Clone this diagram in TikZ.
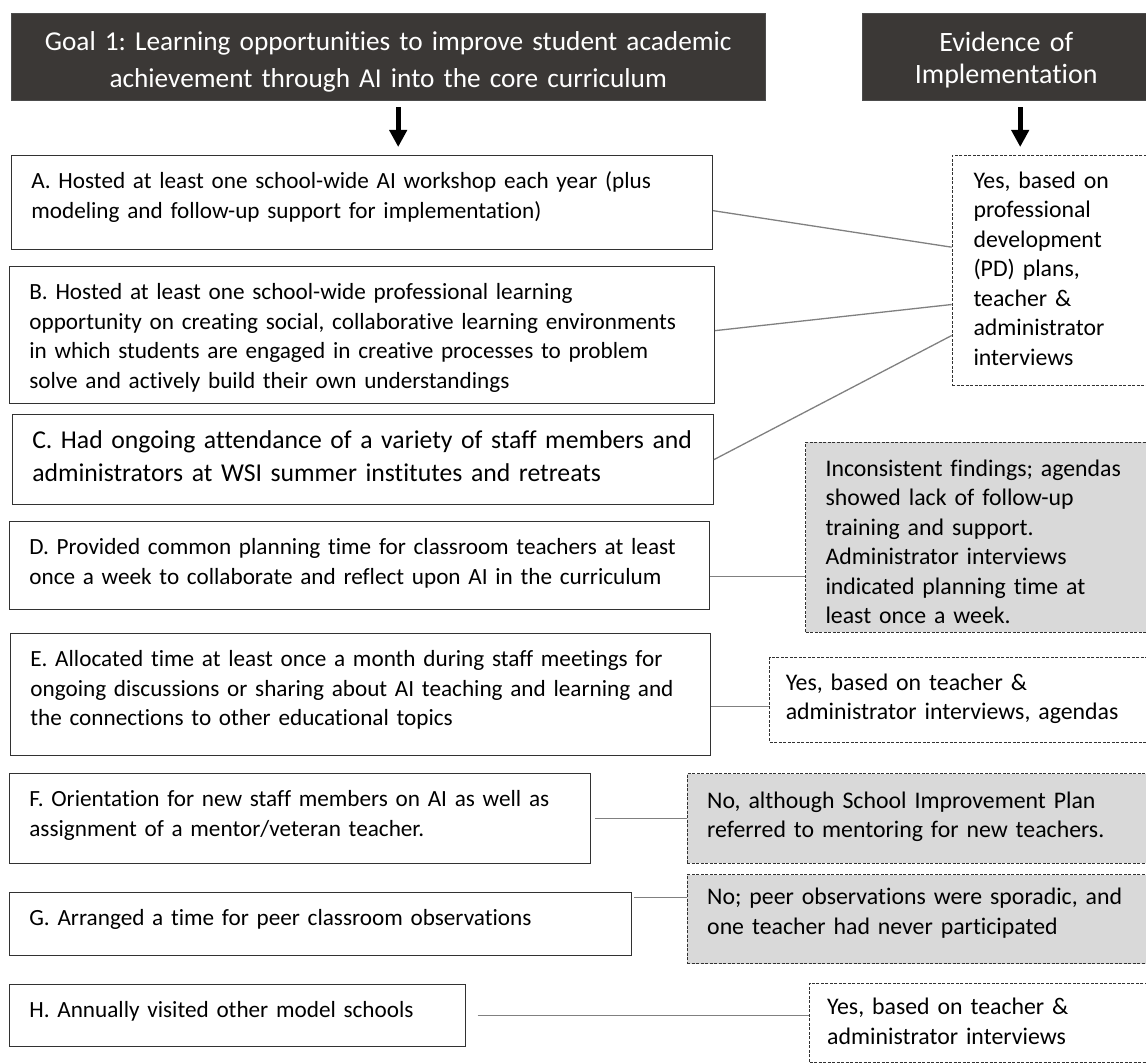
\documentclass[tikz,border=0pt]{standalone}
\usepackage{fontspec}
\setmainfont{Carlito}[Ligatures=NoCommon]
\frenchspacing
\definecolor{headgray}{RGB}{59, 56, 54}
\definecolor{evgray}{RGB}{217, 217, 217}
\definecolor{linegray}{RGB}{128, 128, 128}
\definecolor{boxline}{RGB}{50, 50, 50}
\usetikzlibrary{arrows.meta, positioning, calc}
\tikzset{
	header/.style={rectangle, draw=black!70, fill=headgray, text=white, align=center, inner xsep=10pt, inner ysep=0pt, anchor=north west, font=\fontsize{27.3}{37.3}\selectfont},
	item/.style={rectangle, draw=boxline, line width=1.3pt, fill=white, align=left, inner xsep=20pt, inner ysep=0pt, text height=33pt, anchor=north west, font=\fontsize{23.2}{29.5}\selectfont},
	evid/.style={rectangle, draw=boxline, dash pattern=on 3pt off 1.5pt, line width=1pt, fill=white, align=left, inner xsep=20pt, inner ysep=0pt, text height=33pt, anchor=north west, font=\fontsize{23.8}{29.5}\selectfont},
	evidno/.style={evid, fill=evgray},
	link/.style={draw=linegray, line width=1.3pt},
	downarrow/.style={-{Triangle[width=17pt, length=17pt]}, line width=5pt, draw=black},
}
\begin{document}
\begin{tikzpicture}[x=1pt, y=-1pt]
	\useasboundingbox (0,0) rectangle (1146,1064);
	% headers
	\node[header, text width=734pt, text height=37.3pt, text depth=50pt] (goal) at (11,12.7) {Goal 1: Learning opportunities to improve student academic\\achievement through AI into the core curriculum};
	\node[header, text width=268pt, text height=39pt, text depth=48.3pt, font=\fontsize{28}{31.7}\selectfont] (evhead) at (862,12.7) {Evidence of\\Implementation};
	% items
	\node[item, text width=661pt, text depth=61pt] (A) at (10.7,155) {A. Hosted at least one school-wide AI workshop each year (plus\\modeling and follow-up support for implementation)};
	\node[item, text width=665pt, text depth=104pt] (B) at (8.7,266) {B. Hosted at least one school-wide professional learning\\opportunity on creating social, collaborative learning environments\\in which students are engaged in creative processes to problem\\solve and actively build their own understandings};
	\node[item, text width=661pt, text height=34pt, text depth=56pt, font=\fontsize{25.7}{33}\selectfont] (C) at (11.6,414) {C. Had ongoing attendance of a variety of staff members and\\administrators at WSI summer institutes and retreats};
	\node[item, text width=660pt, text depth=55pt] (D) at (8.7,521) {D. Provided common planning time for classroom teachers at least\\once a week to collaborate and reflect upon AI in the curriculum};
	\node[item, text width=660pt, text depth=89pt] (E) at (9.7,633) {E. Allocated time at least once a month during staff meetings for\\ongoing discussions or sharing about AI teaching and learning and\\the connections to other educational topics};
	\node[item, text width=541pt, text depth=57pt] (F) at (8.7,773) {F. Orientation for new staff members on AI as well as\\assignment of a mentor/veteran teacher.};
	\node[item, text width=582pt, text depth=30pt] (G) at (8.7,892) {G. Arranged a time for peer classroom observations};
	\node[item, text width=416pt, text depth=29pt] (H) at (8.7,984) {H. Annually visited other model schools};
	% evidence
	\node[evid, inner xsep=21.3pt, text width=151.2pt, text depth=197pt] (ev1) at (951.7,155) {Yes, based on\\professional\\development\\(PD) plans,\\teacher \&\\administrator\\interviews};
	\node[evidno, text width=300.5pt, text height=34pt, text depth=156pt] (ev2) at (805,441.7) {Inconsistent findings; agendas\\showed lack of follow-up\\training and support.\\Administrator interviews\\indicated planning time at\\least once a week.};
	\node[evid, inner xsep=16pt, text width=344.2pt, text depth=52pt] (ev3) at (769.3,656.7) {Yes, based on teacher \&\\administrator interviews, agendas};
	\node[evidno, text width=418.8pt, text height=34.4pt, text depth=55pt] (ev4) at (686.7,773.3) {No, although School Improvement Plan\\referred to mentoring for new teachers.};
	\node[evidno, text width=418.8pt, text height=30pt, text depth=59pt] (ev5) at (686.7,874.3) {No; peer observations were sporadic, and\\one teacher had never participated};
	\node[evid, inner xsep=17.7pt, text width=301.1pt, text height=31.7pt, text depth=47.6pt] (ev6) at (809,982.7) {Yes, based on teacher \&\\administrator interviews};
	% arrows
	\draw[downarrow, shorten <=7pt, shorten >=8pt] ([xshift=10pt]goal.south) -- ([xshift=10pt]goal.south |- A.north);
	\draw[downarrow, shorten <=7pt, shorten >=8pt] ([xshift=14pt]evhead.south) -- ([xshift=14pt]evhead.south |- ev1.north);
	% connectors
	\draw[link] ([yshift=-8pt]A.east) -- ([yshift=23.3pt]ev1.west);
	\draw[link] ([yshift=4.5pt]B.east) -- ([yshift=-34pt]ev1.west);
	\draw[link] (C.east) -- ([yshift=-65pt]ev1.west);
	\draw[link] ([yshift=-11pt]D.east) -- ([yshift=-11pt]D.east -| ev2.west);
	\draw[link] ([yshift=-12pt]E.east) -- ([yshift=-12pt]E.east -| ev3.west);
	\draw[link, shorten <=4pt] (F.east) -- (F.east -| ev4.west);
	\draw[link, shorten <=2pt] ([yshift=26.8pt]G.east) -- ([yshift=26.8pt]G.east -| ev5.west);
	\draw[link, shorten <=11.5pt] (H.east) -- (H.east -| ev6.west);
\end{tikzpicture}
\end{document}
